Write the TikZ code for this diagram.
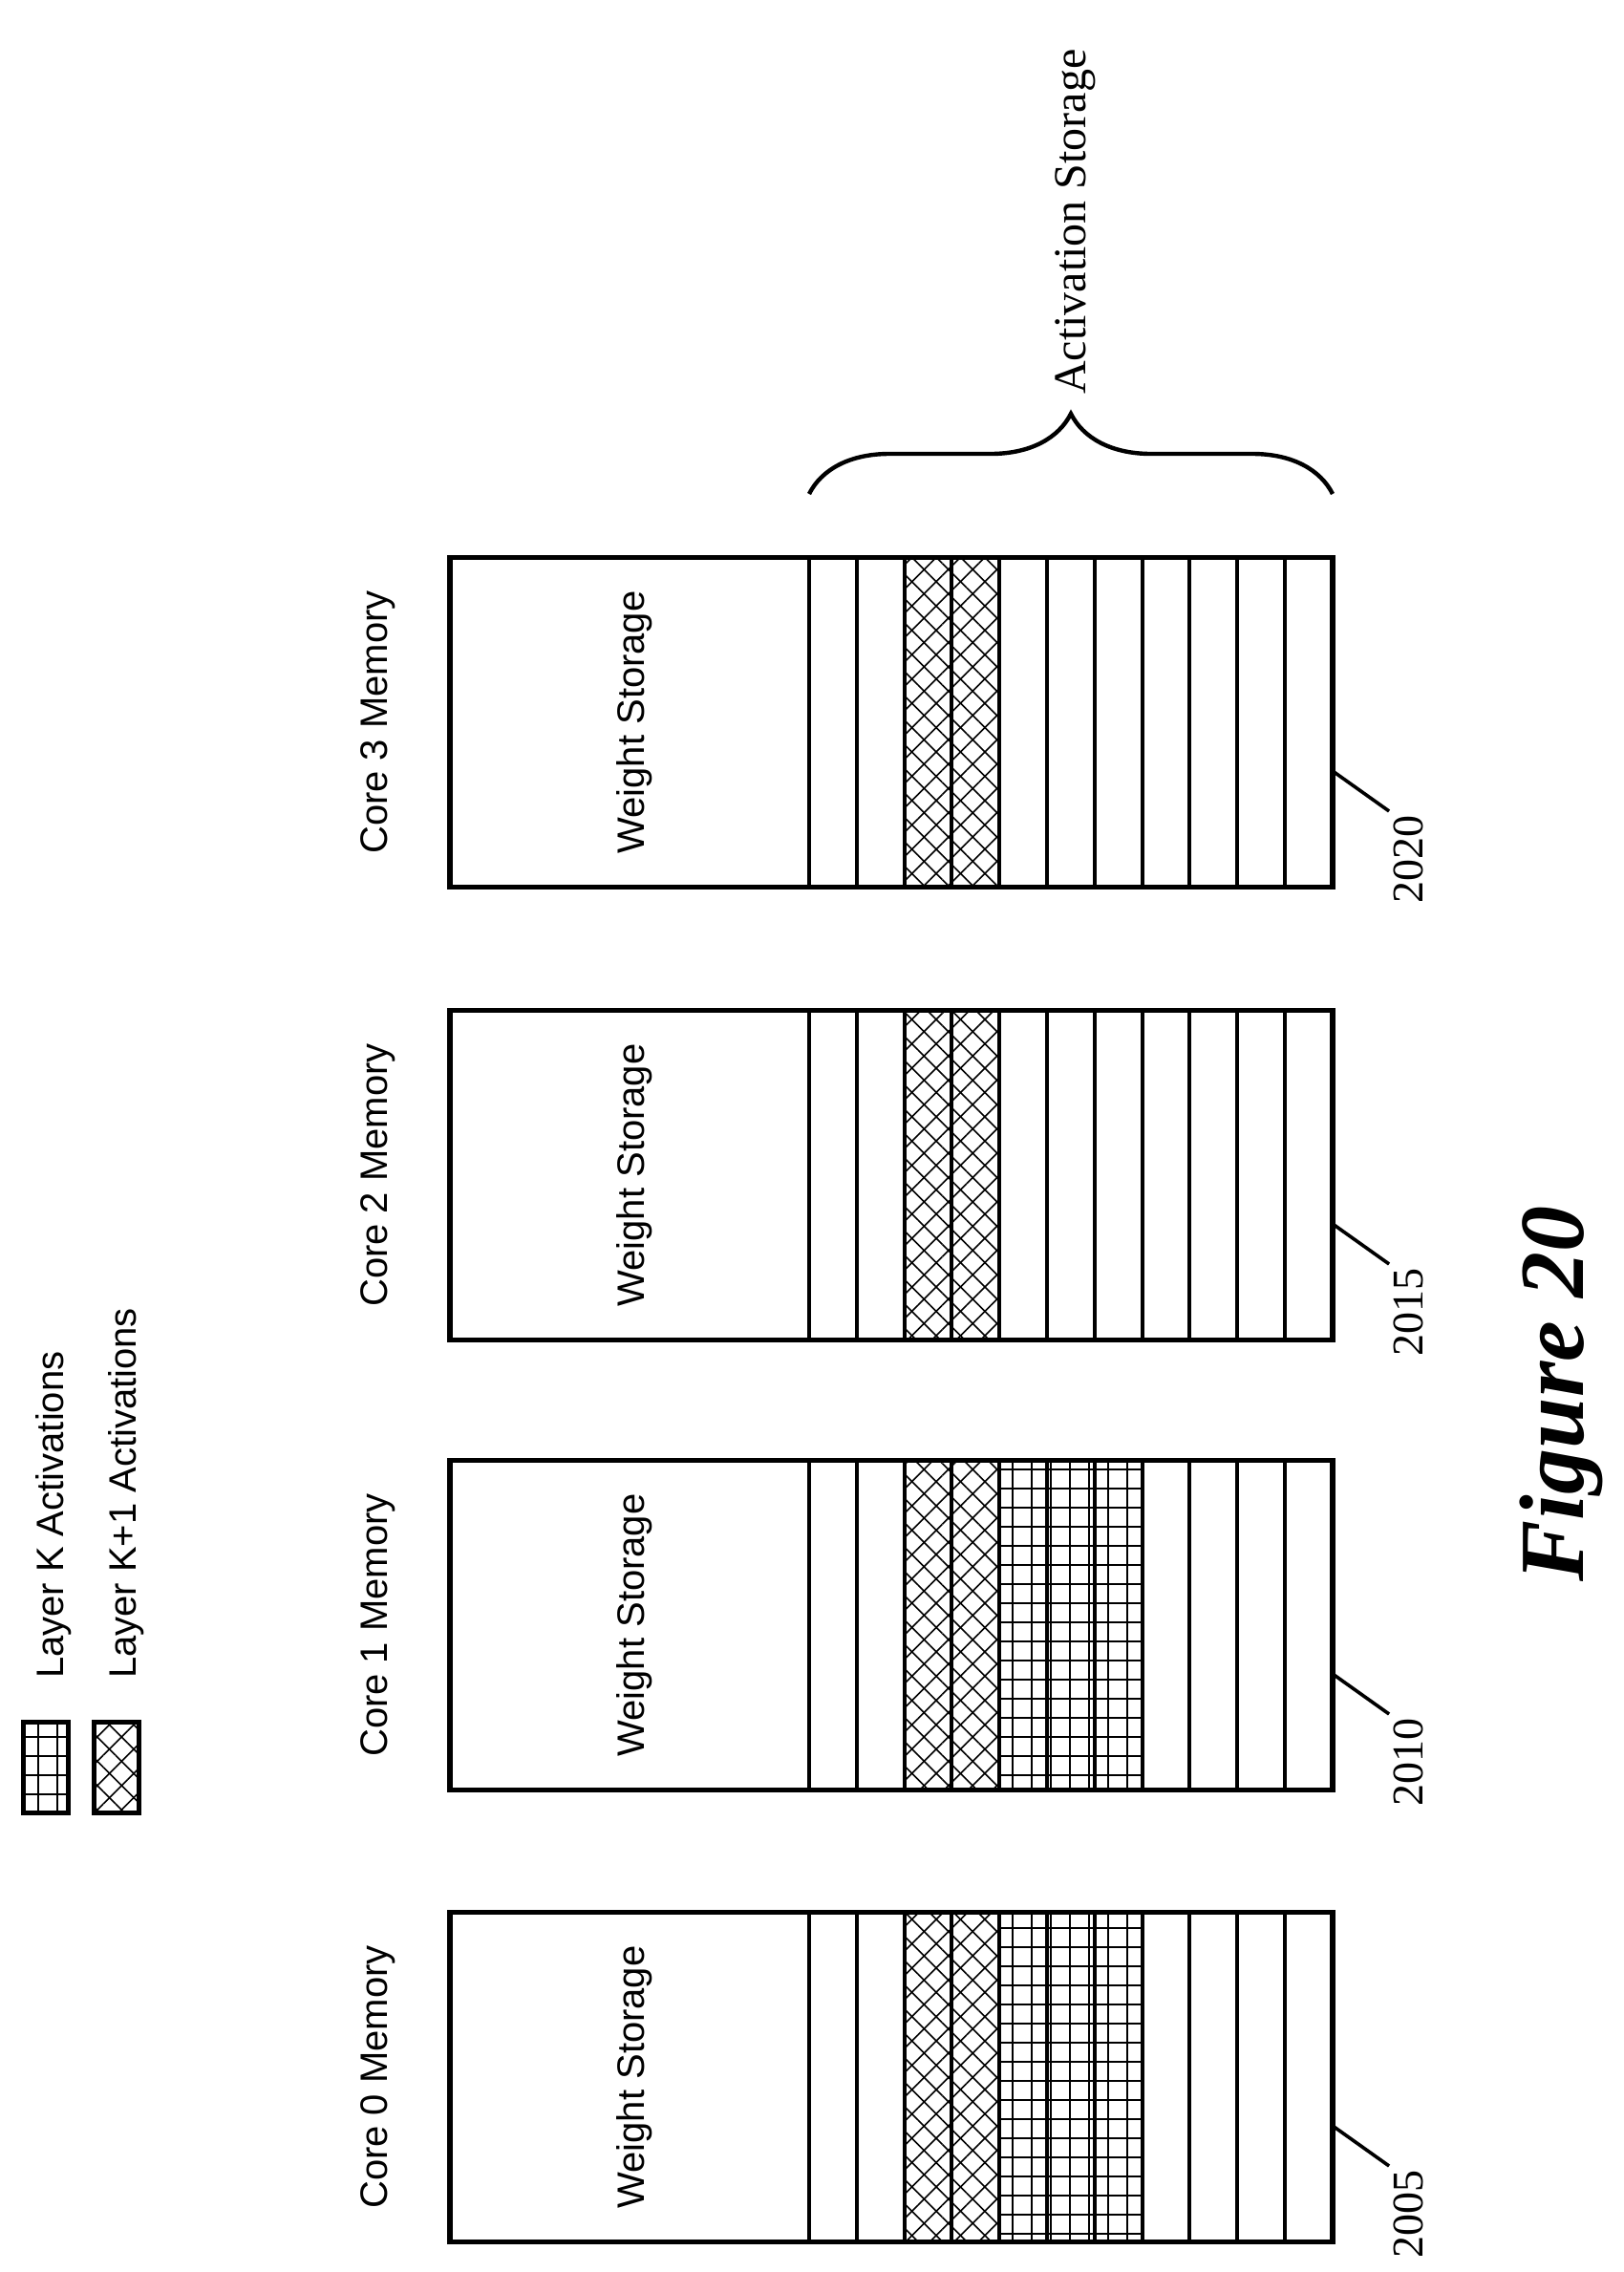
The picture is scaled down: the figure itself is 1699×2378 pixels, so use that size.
\documentclass[tikz,border=0pt]{standalone}
\usepackage{fontspec}
\setmainfont{Liberation Serif}
\setsansfont{Liberation Sans}
\usetikzlibrary{patterns.meta,decorations.pathreplacing}
\begin{document}
\begin{tikzpicture}[x=0.5pt,y=-0.5pt,
  box/.style={line width=2.6pt},
  div/.style={line width=2pt},
  kone/.style={pattern={Lines[angle=45,distance=9pt,line width=0.8pt]}},
  koneb/.style={pattern={Lines[angle=-45,distance=9pt,line width=0.8pt]}},
  kgrid/.style={pattern={Hatch[angle=0,distance=10pt,line width=0.8pt]}},
  lab/.style={font=\sffamily\fontsize{20}{24}\selectfont,rotate=90},
  refn/.style={font=\fontsize{23}{27}\selectfont,rotate=90}]
\useasboundingbox (0,0) rectangle (1699,2378);
% memories
\foreach \i/\top/\num/\full in {0/2002/2005/1,1/1529/2010/1,2/1058/2015/0,3/584/2020/0}{
  \pgfmathsetmacro{\bot}{\top+345}
  \pgfmathsetmacro{\mid}{\top+172}
  \foreach \k in {2,3}{
    \fill[kone] ({847+49.8*\k},\top) rectangle ({847+49.8*(\k+1)},\bot);
    \fill[koneb] ({847+49.8*\k},\top) rectangle ({847+49.8*(\k+1)},\bot);}
  \ifnum\full=1
    \foreach \k in {4,5,6}{
      \fill[kgrid] ({847+49.8*\k},\top) rectangle ({847+49.8*(\k+1)},\bot);}
  \fi
  \foreach \k in {0,...,10}{
    \draw[div] ({847+49.8*\k},\top) -- ({847+49.8*\k},\bot);}
  \node[box,draw,inner sep=0pt,minimum width=462pt,minimum height=172.5pt] (mem\i) at (933,\mid) {};
  \node[lab] (core\i) at (396,\mid) {Core \i\ Memory};
  \node[lab] (ws\i) at (664,\mid) {Weight Storage};
  \coordinate (lead\i) at (1395,\bot-122);
  \node[refn,anchor=east,inner sep=2pt] (ref\i) at (1474,\bot-80) {\num};
  \draw[line width=1.8pt] (lead\i) -- (ref\i.north east);
}
% brace
\draw[line width=2.2pt,decorate,decoration={brace,amplitude=42pt}] (847,517) -- (1395,517);
\node[font=\fontsize{24}{28}\selectfont,rotate=90,anchor=west] (act) at (1126,420) {Activation Storage};
% legend
\node[box,draw,kgrid,inner sep=0pt,minimum width=23.5pt,minimum height=47.5pt] (legk) at (48,1850) {};
\fill[koneb] (99,1803) rectangle (146,1898);
\node[box,draw,kone,inner sep=0pt,minimum width=23.5pt,minimum height=47.5pt] (legk1) at (122,1850) {};
\node[lab,anchor=west] (tk) at (56,1764) {Layer K Activations};
\node[lab,anchor=west] (tk1) at (132,1764) {Layer K+1 Activations};
% figure title
\node[font=\bfseries\itshape\fontsize{48}{56}\selectfont,rotate=90] (fig) at (1634,1459) {Figure 20};
\end{tikzpicture}
\end{document}
